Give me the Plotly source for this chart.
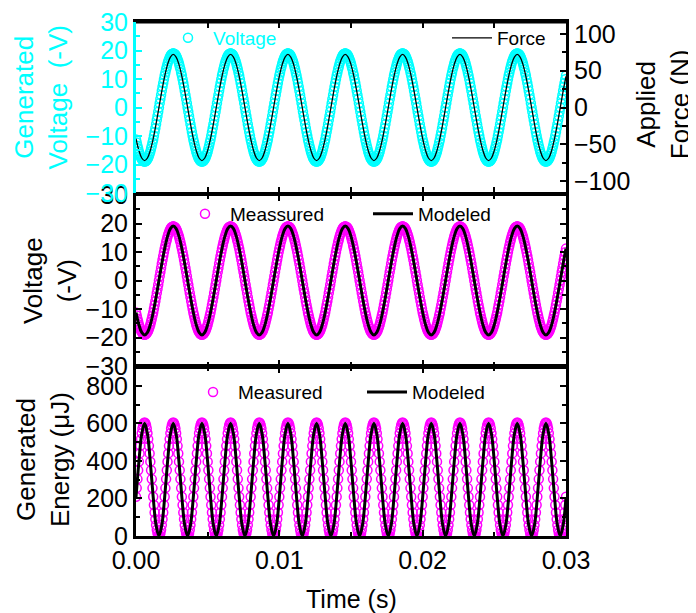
import numpy as np
import plotly.graph_objects as go

# ---------------- data ----------------
FINE_STEP = 0.00005   # s, measured samples
COARSE_STEP = 0.0002  # s, model / force samples

# measured generated voltage (-V), every 0.05 ms (shown in top and middle panels)
V_MEAS = [
    -11.2, -12.3, -13.4, -14.4, -15.4, -16.2, -16.9, -17.6, -18.1, -18.5, -18.8, -18.9, -19.0, -18.9, -18.8, -18.5, -18.1, -17.6, -16.9, -16.2, -15.4, -14.4, -13.4, -12.3, -11.2, -9.9, -8.6, -7.3, -5.9, -4.4, -3.0, -1.5, 0.0, 1.5, 3.0, 4.4, 5.9, 7.3, 8.6, 9.9,
    11.2, 12.3, 13.4, 14.4, 15.4, 16.2, 16.9, 17.6, 18.1, 18.5, 18.8, 18.9, 19.0, 18.9, 18.8, 18.5, 18.1, 17.6, 16.9, 16.2, 15.4, 14.4, 13.4, 12.3, 11.2, 9.9, 8.6, 7.3, 5.9, 4.4, 3.0, 1.5, 0.0, -1.5, -3.0, -4.4, -5.9, -7.3, -8.6, -9.9,
    -11.2, -12.3, -13.4, -14.4, -15.4, -16.2, -16.9, -17.6, -18.1, -18.5, -18.8, -18.9, -19.0, -18.9, -18.8, -18.5, -18.1, -17.6, -16.9, -16.2, -15.4, -14.4, -13.4, -12.3, -11.2, -9.9, -8.6, -7.3, -5.9, -4.4, -3.0, -1.5, 0.0, 1.5, 3.0, 4.4, 5.9, 7.3, 8.6, 9.9,
    11.2, 12.3, 13.4, 14.4, 15.4, 16.2, 16.9, 17.6, 18.1, 18.5, 18.8, 18.9, 19.0, 18.9, 18.8, 18.5, 18.1, 17.6, 16.9, 16.2, 15.4, 14.4, 13.4, 12.3, 11.2, 9.9, 8.6, 7.3, 5.9, 4.4, 3.0, 1.5, 0.0, -1.5, -3.0, -4.4, -5.9, -7.3, -8.6, -9.9,
    -11.2, -12.3, -13.4, -14.4, -15.4, -16.2, -16.9, -17.6, -18.1, -18.5, -18.8, -18.9, -19.0, -18.9, -18.8, -18.5, -18.1, -17.6, -16.9, -16.2, -15.4, -14.4, -13.4, -12.3, -11.2, -9.9, -8.6, -7.3, -5.9, -4.4, -3.0, -1.5, 0.0, 1.5, 3.0, 4.4, 5.9, 7.3, 8.6, 9.9,
    11.2, 12.3, 13.4, 14.4, 15.4, 16.2, 16.9, 17.6, 18.1, 18.5, 18.8, 18.9, 19.0, 18.9, 18.8, 18.5, 18.1, 17.6, 16.9, 16.2, 15.4, 14.4, 13.4, 12.3, 11.2, 9.9, 8.6, 7.3, 5.9, 4.4, 3.0, 1.5, 0.0, -1.5, -3.0, -4.4, -5.9, -7.3, -8.6, -9.9,
    -11.2, -12.3, -13.4, -14.4, -15.4, -16.2, -16.9, -17.6, -18.1, -18.5, -18.8, -18.9, -19.0, -18.9, -18.8, -18.5, -18.1, -17.6, -16.9, -16.2, -15.4, -14.4, -13.4, -12.3, -11.2, -9.9, -8.6, -7.3, -5.9, -4.4, -3.0, -1.5, 0.0, 1.5, 3.0, 4.4, 5.9, 7.3, 8.6, 9.9,
    11.2, 12.3, 13.4, 14.4, 15.4, 16.2, 16.9, 17.6, 18.1, 18.5, 18.8, 18.9, 19.0, 18.9, 18.8, 18.5, 18.1, 17.6, 16.9, 16.2, 15.4, 14.4, 13.4, 12.3, 11.2, 9.9, 8.6, 7.3, 5.9, 4.4, 3.0, 1.5, 0.0, -1.5, -3.0, -4.4, -5.9, -7.3, -8.6, -9.9,
    -11.2, -12.3, -13.4, -14.4, -15.4, -16.2, -16.9, -17.6, -18.1, -18.5, -18.8, -18.9, -19.0, -18.9, -18.8, -18.5, -18.1, -17.6, -16.9, -16.2, -15.4, -14.4, -13.4, -12.3, -11.2, -9.9, -8.6, -7.3, -5.9, -4.4, -3.0, -1.5, 0.0, 1.5, 3.0, 4.4, 5.9, 7.3, 8.6, 9.9,
    11.2, 12.3, 13.4, 14.4, 15.4, 16.2, 16.9, 17.6, 18.1, 18.5, 18.8, 18.9, 19.0, 18.9, 18.8, 18.5, 18.1, 17.6, 16.9, 16.2, 15.4, 14.4, 13.4, 12.3, 11.2, 9.9, 8.6, 7.3, 5.9, 4.4, 3.0, 1.5, 0.0, -1.5, -3.0, -4.4, -5.9, -7.3, -8.6, -9.9,
    -11.2, -12.3, -13.4, -14.4, -15.4, -16.2, -16.9, -17.6, -18.1, -18.5, -18.8, -18.9, -19.0, -18.9, -18.8, -18.5, -18.1, -17.6, -16.9, -16.2, -15.4, -14.4, -13.4, -12.3, -11.2, -9.9, -8.6, -7.3, -5.9, -4.4, -3.0, -1.5, 0.0, 1.5, 3.0, 4.4, 5.9, 7.3, 8.6, 9.9,
    11.2, 12.3, 13.4, 14.4, 15.4, 16.2, 16.9, 17.6, 18.1, 18.5, 18.8, 18.9, 19.0, 18.9, 18.8, 18.5, 18.1, 17.6, 16.9, 16.2, 15.4, 14.4, 13.4, 12.3, 11.2, 9.9, 8.6, 7.3, 5.9, 4.4, 3.0, 1.5, 0.0, -1.5, -3.0, -4.4, -5.9, -7.3, -8.6, -9.9,
    -11.2, -12.3, -13.4, -14.4, -15.4, -16.2, -16.9, -17.6, -18.1, -18.5, -18.8, -18.9, -19.0, -18.9, -18.8, -18.5, -18.1, -17.6, -16.9, -16.2, -15.4, -14.4, -13.4, -12.3, -11.2, -9.9, -8.6, -7.3, -5.9, -4.4, -3.0, -1.5, 0.0, 1.5, 3.0, 4.4, 5.9, 7.3, 8.6, 9.9,
    11.2, 12.3, 13.4, 14.4, 15.4, 16.2, 16.9, 17.6, 18.1, 18.5, 18.8, 18.9, 19.0, 18.9, 18.8, 18.5, 18.1, 17.6, 16.9, 16.2, 15.4, 14.4, 13.4, 12.3, 11.2, 9.9, 8.6, 7.3, 5.9, 4.4, 3.0, 1.5, 0.0, -1.5, -3.0, -4.4, -5.9, -7.3, -8.6, -9.9,
    -11.2, -12.3, -13.4, -14.4, -15.4, -16.2, -16.9, -17.6, -18.1, -18.5, -18.8, -18.9, -19.0, -18.9, -18.8, -18.5, -18.1, -17.6, -16.9, -16.2, -15.4, -14.4, -13.4, -12.3, -11.2, -9.9, -8.6, -7.3, -5.9, -4.4, -3.0, -1.5, 0.0, 1.5, 3.0, 4.4, 5.9, 7.3, 8.6, 9.9,
    11.2,
]

# applied force (N), every 0.2 ms
F_APPLIED = [
    -42.3, -58.2, -68.5, -72.0, -68.5, -58.2, -42.3, -22.2, 0.0, 22.2, 42.3, 58.2, 68.5, 72.0, 68.5, 58.2, 42.3, 22.2, 0.0, -22.2,
    -42.3, -58.2, -68.5, -72.0, -68.5, -58.2, -42.3, -22.2, 0.0, 22.2, 42.3, 58.2, 68.5, 72.0, 68.5, 58.2, 42.3, 22.2, 0.0, -22.2,
    -42.3, -58.2, -68.5, -72.0, -68.5, -58.2, -42.3, -22.2, 0.0, 22.2, 42.3, 58.2, 68.5, 72.0, 68.5, 58.2, 42.3, 22.2, 0.0, -22.2,
    -42.3, -58.2, -68.5, -72.0, -68.5, -58.2, -42.3, -22.2, 0.0, 22.2, 42.3, 58.2, 68.5, 72.0, 68.5, 58.2, 42.3, 22.2, 0.0, -22.2,
    -42.3, -58.2, -68.5, -72.0, -68.5, -58.2, -42.3, -22.2, 0.0, 22.2, 42.3, 58.2, 68.5, 72.0, 68.5, 58.2, 42.3, 22.2, 0.0, -22.2,
    -42.3, -58.2, -68.5, -72.0, -68.5, -58.2, -42.3, -22.2, 0.0, 22.2, 42.3, 58.2, 68.5, 72.0, 68.5, 58.2, 42.3, 22.2, 0.0, -22.2,
    -42.3, -58.2, -68.5, -72.0, -68.5, -58.2, -42.3, -22.2, 0.0, 22.2, 42.3, 58.2, 68.5, 72.0, 68.5, 58.2, 42.3, 22.2, 0.0, -22.2,
    -42.3, -58.2, -68.5, -72.0, -68.5, -58.2, -42.3, -22.2, 0.0, 22.2, 42.3,
]

# modeled voltage (-V), every 0.2 ms
V_MODEL = [
    -11.2, -15.5, -18.2, -19.1, -18.2, -15.5, -11.2, -5.9, 0.0, 5.9, 11.2, 15.5, 18.2, 19.1, 18.2, 15.5, 11.2, 5.9, 0.0, -5.9,
    -11.2, -15.5, -18.2, -19.1, -18.2, -15.5, -11.2, -5.9, 0.0, 5.9, 11.2, 15.5, 18.2, 19.1, 18.2, 15.5, 11.2, 5.9, 0.0, -5.9,
    -11.2, -15.5, -18.2, -19.1, -18.2, -15.5, -11.2, -5.9, 0.0, 5.9, 11.2, 15.5, 18.2, 19.1, 18.2, 15.5, 11.2, 5.9, 0.0, -5.9,
    -11.2, -15.5, -18.2, -19.1, -18.2, -15.5, -11.2, -5.9, 0.0, 5.9, 11.2, 15.5, 18.2, 19.1, 18.2, 15.5, 11.2, 5.9, 0.0, -5.9,
    -11.2, -15.5, -18.2, -19.1, -18.2, -15.5, -11.2, -5.9, 0.0, 5.9, 11.2, 15.5, 18.2, 19.1, 18.2, 15.5, 11.2, 5.9, 0.0, -5.9,
    -11.2, -15.5, -18.2, -19.1, -18.2, -15.5, -11.2, -5.9, 0.0, 5.9, 11.2, 15.5, 18.2, 19.1, 18.2, 15.5, 11.2, 5.9, 0.0, -5.9,
    -11.2, -15.5, -18.2, -19.1, -18.2, -15.5, -11.2, -5.9, 0.0, 5.9, 11.2, 15.5, 18.2, 19.1, 18.2, 15.5, 11.2, 5.9, 0.0, -5.9,
    -11.2, -15.5, -18.2, -19.1, -18.2, -15.5, -11.2, -5.9, 0.0, 5.9, 11.2,
]

# measured generated energy (uJ), every 0.05 ms
E_MEAS = [
    209, 255, 303, 350, 396, 440, 480, 516, 547, 572, 590, 601, 605, 601, 590, 572, 547, 516, 480, 440, 396, 350, 303, 255, 209, 165, 125, 89, 58, 33, 15, 4, 0, 4, 15, 33, 58, 89, 125, 165,
    209, 255, 303, 350, 396, 440, 480, 516, 547, 572, 590, 601, 605, 601, 590, 572, 547, 516, 480, 440, 396, 350, 303, 255, 209, 165, 125, 89, 58, 33, 15, 4, 0, 4, 15, 33, 58, 89, 125, 165,
    209, 255, 303, 350, 396, 440, 480, 516, 547, 572, 590, 601, 605, 601, 590, 572, 547, 516, 480, 440, 396, 350, 303, 255, 209, 165, 125, 89, 58, 33, 15, 4, 0, 4, 15, 33, 58, 89, 125, 165,
    209, 255, 303, 350, 396, 440, 480, 516, 547, 572, 590, 601, 605, 601, 590, 572, 547, 516, 480, 440, 396, 350, 303, 255, 209, 165, 125, 89, 58, 33, 15, 4, 0, 4, 15, 33, 58, 89, 125, 165,
    209, 255, 303, 350, 396, 440, 480, 516, 547, 572, 590, 601, 605, 601, 590, 572, 547, 516, 480, 440, 396, 350, 303, 255, 209, 165, 125, 89, 58, 33, 15, 4, 0, 4, 15, 33, 58, 89, 125, 165,
    209, 255, 303, 350, 396, 440, 480, 516, 547, 572, 590, 601, 605, 601, 590, 572, 547, 516, 480, 440, 396, 350, 303, 255, 209, 165, 125, 89, 58, 33, 15, 4, 0, 4, 15, 33, 58, 89, 125, 165,
    209, 255, 303, 350, 396, 440, 480, 516, 547, 572, 590, 601, 605, 601, 590, 572, 547, 516, 480, 440, 396, 350, 303, 255, 209, 165, 125, 89, 58, 33, 15, 4, 0, 4, 15, 33, 58, 89, 125, 165,
    209, 255, 303, 350, 396, 440, 480, 516, 547, 572, 590, 601, 605, 601, 590, 572, 547, 516, 480, 440, 396, 350, 303, 255, 209, 165, 125, 89, 58, 33, 15, 4, 0, 4, 15, 33, 58, 89, 125, 165,
    209, 255, 303, 350, 396, 440, 480, 516, 547, 572, 590, 601, 605, 601, 590, 572, 547, 516, 480, 440, 396, 350, 303, 255, 209, 165, 125, 89, 58, 33, 15, 4, 0, 4, 15, 33, 58, 89, 125, 165,
    209, 255, 303, 350, 396, 440, 480, 516, 547, 572, 590, 601, 605, 601, 590, 572, 547, 516, 480, 440, 396, 350, 303, 255, 209, 165, 125, 89, 58, 33, 15, 4, 0, 4, 15, 33, 58, 89, 125, 165,
    209, 255, 303, 350, 396, 440, 480, 516, 547, 572, 590, 601, 605, 601, 590, 572, 547, 516, 480, 440, 396, 350, 303, 255, 209, 165, 125, 89, 58, 33, 15, 4, 0, 4, 15, 33, 58, 89, 125, 165,
    209, 255, 303, 350, 396, 440, 480, 516, 547, 572, 590, 601, 605, 601, 590, 572, 547, 516, 480, 440, 396, 350, 303, 255, 209, 165, 125, 89, 58, 33, 15, 4, 0, 4, 15, 33, 58, 89, 125, 165,
    209, 255, 303, 350, 396, 440, 480, 516, 547, 572, 590, 601, 605, 601, 590, 572, 547, 516, 480, 440, 396, 350, 303, 255, 209, 165, 125, 89, 58, 33, 15, 4, 0, 4, 15, 33, 58, 89, 125, 165,
    209, 255, 303, 350, 396, 440, 480, 516, 547, 572, 590, 601, 605, 601, 590, 572, 547, 516, 480, 440, 396, 350, 303, 255, 209, 165, 125, 89, 58, 33, 15, 4, 0, 4, 15, 33, 58, 89, 125, 165,
    209, 255, 303, 350, 396, 440, 480, 516, 547, 572, 590, 601, 605, 601, 590, 572, 547, 516, 480, 440, 396, 350, 303, 255, 209, 165, 125, 89, 58, 33, 15, 4, 0, 4, 15, 33, 58, 89, 125, 165,
    209,
]

# modeled generated energy (uJ), every 0.2 ms
E_MODEL = [
    207, 393, 543, 600, 543, 393, 207, 57, 0, 57,
    207, 393, 543, 600, 543, 393, 207, 57, 0, 57,
    207, 393, 543, 600, 543, 393, 207, 57, 0, 57,
    207, 393, 543, 600, 543, 393, 207, 57, 0, 57,
    207, 393, 543, 600, 543, 393, 207, 57, 0, 57,
    207, 393, 543, 600, 543, 393, 207, 57, 0, 57,
    207, 393, 543, 600, 543, 393, 207, 57, 0, 57,
    207, 393, 543, 600, 543, 393, 207, 57, 0, 57,
    207, 393, 543, 600, 543, 393, 207, 57, 0, 57,
    207, 393, 543, 600, 543, 393, 207, 57, 0, 57,
    207, 393, 543, 600, 543, 393, 207, 57, 0, 57,
    207, 393, 543, 600, 543, 393, 207, 57, 0, 57,
    207, 393, 543, 600, 543, 393, 207, 57, 0, 57,
    207, 393, 543, 600, 543, 393, 207, 57, 0, 57,
    207, 393, 543, 600, 543, 393, 207, 57, 0, 57,
    207,
]

X_TICKS = [0.0, 0.01, 0.02, 0.03]
FORCE_TICKS = [-100, -50, 0, 50, 100]

t_v = np.round(np.arange(len(V_MEAS)) * FINE_STEP, 6)
t_f = np.round(np.arange(len(F_APPLIED)) * COARSE_STEP, 6)
t_vm = np.round(np.arange(len(V_MODEL)) * COARSE_STEP, 6)
t_e = np.round(np.arange(len(E_MEAS)) * FINE_STEP, 6)
t_em = np.round(np.arange(len(E_MODEL)) * COARSE_STEP, 6)

CYAN = "#00FFFF"
MAG = "#FF00FF"
FONT = "Liberation Sans, Arial, Helvetica, sans-serif"
MSIZE = 9

fig = go.Figure()

# top panel
fig.add_trace(go.Scatter(x=t_v, y=V_MEAS, mode="markers", name="Voltage", showlegend=True,
                         marker=dict(symbol="circle-open", size=MSIZE, color=CYAN, line=dict(width=1.5, color=CYAN)),
                         xaxis="x3", yaxis="y3", legend="legend"))
fig.add_trace(go.Scatter(x=t_f, y=F_APPLIED, mode="lines", name="Force", line_shape="spline", showlegend=True,
                         line=dict(color="black", width=1.3),
                         xaxis="x3", yaxis="y4", legend="legend2"))
# middle panel
fig.add_trace(go.Scatter(x=t_v, y=V_MEAS, mode="markers", name="Meassured", showlegend=True,
                         marker=dict(symbol="circle-open", size=MSIZE, color=MAG, line=dict(width=1.5, color=MAG)),
                         xaxis="x2", yaxis="y2", legend="legend3"))
fig.add_trace(go.Scatter(x=t_vm, y=V_MODEL, mode="lines", name="Modeled", line_shape="spline", showlegend=True,
                         line=dict(color="black", width=3),
                         xaxis="x2", yaxis="y2", legend="legend4"))
# bottom panel
fig.add_trace(go.Scatter(x=t_e, y=E_MEAS, mode="markers", name="Measured", showlegend=True,
                         marker=dict(symbol="circle-open", size=MSIZE, color=MAG, line=dict(width=1.5, color=MAG)),
                         xaxis="x", yaxis="y", legend="legend5"))
fig.add_trace(go.Scatter(x=t_em, y=E_MODEL, mode="lines", name="Modeled", line_shape="spline", showlegend=True,
                         line=dict(color="black", width=3),
                         xaxis="x", yaxis="y", legend="legend6"))

xcommon = dict(range=[0, 0.03], tickvals=X_TICKS, ticks="inside", ticklen=6, tickwidth=2,
               tickcolor="black", showline=True, linewidth=3, linecolor="black", mirror="allticks",
               showgrid=False, zeroline=False, automargin=False,
               minor=dict(dtick=0.005, tick0=0, ticks="inside", ticklen=4, tickwidth=2, tickcolor="black", showgrid=False))

ycommon = dict(ticks="inside", ticklen=6, tickwidth=2, tickcolor="black", showline=True, linewidth=3,
               linecolor="black", showgrid=False, zeroline=False, automargin=False,
               ticklabeloverflow="allow")

leg = dict(xanchor="left", yanchor="middle", bgcolor="rgba(0,0,0,0)", itemwidth=40)

fig.update_layout(
    width=688, height=605,
    margin=dict(l=128, r=130, t=14, b=77, autoexpand=False),
    plot_bgcolor="white", paper_bgcolor="white",
    showlegend=True,
    font=dict(family=FONT, size=25, color="black"),
    xaxis=dict(**xcommon, anchor="y", tickformat=".2f", tickfont=dict(size=25), ticklabeloverflow="allow"),
    xaxis2=dict(**xcommon, anchor="y2", matches="x", showticklabels=False),
    xaxis3=dict(**xcommon, anchor="y3", matches="x", showticklabels=False),
    yaxis=dict(**ycommon, domain=[0, 0.3288], anchor="x", range=[0, 900], dtick=200, tick0=0,
               mirror="allticks",
               minor=dict(dtick=100, ticks="inside", ticklen=4, tickwidth=2, tickcolor="black")),
    yaxis2=dict(**ycommon, domain=[0.3307, 0.6634], anchor="x2", range=[-30, 30], dtick=10, tick0=0,
                mirror="allticks",
                minor=dict(dtick=5, ticks="inside", ticklen=4, tickwidth=2, tickcolor="black")),
    yaxis3=dict(ticks="inside", ticklen=6, tickwidth=2, tickcolor=CYAN, showline=True, linewidth=3,
                linecolor=CYAN, showgrid=False, zeroline=False, automargin=False,
                ticklabeloverflow="allow",
                domain=[0.6673, 1], anchor="x3", range=[-30, 30], dtick=10, tick0=0,
                tickfont=dict(color=CYAN), mirror=False,
                minor=dict(dtick=5, ticks="inside", ticklen=4, tickwidth=2, tickcolor=CYAN)),
    yaxis4=dict(**ycommon, overlaying="y3", anchor="x3", side="right", range=[-116, 116],
                tickvals=FORCE_TICKS, mirror=False,
                minor=dict(dtick=25, tick0=0, ticks="inside", ticklen=4, tickwidth=2, tickcolor="black")),
    legend=dict(**leg, x=0.0628, y=0.969, font=dict(size=19, color=CYAN)),
    legend2=dict(**leg, x=0.7233, y=0.969, font=dict(size=19, color="black")),
    legend3=dict(**leg, x=0.1023, y=0.6265, font=dict(size=19, color="black")),
    legend4=dict(**leg, x=0.5395, y=0.6265, font=dict(size=19, color="black")),
    legend5=dict(**leg, x=0.121, y=0.280, font=dict(size=19, color="black")),
    legend6=dict(**leg, x=0.5256, y=0.280, font=dict(size=19, color="black")),
    shapes=[
        # top frame edge of the upper panel
        dict(type="line", xref="x3 domain", yref="y3 domain", x0=0, x1=1, y0=1, y1=1,
             line=dict(color="black", width=3), layer="above"),
    ],
    annotations=[
        dict(text="Generated<br>Voltage\u00a0 (-V)", x=-0.2198, y=0.854, xref="paper", yref="paper",
             textangle=-90, showarrow=False, xanchor="center", yanchor="middle",
             font=dict(size=26, color=CYAN, family=FONT)),
        dict(text="Applied<br>Force (N)", x=1.2256, y=0.840, xref="paper", yref="paper",
             textangle=-90, showarrow=False, xanchor="center", yanchor="middle",
             font=dict(size=26, color="black", family=FONT)),
        dict(text="Voltage<br>(-V)", x=-0.20, y=0.496, xref="paper", yref="paper",
             textangle=-90, showarrow=False, xanchor="center", yanchor="middle",
             font=dict(size=26, color="black", family=FONT)),
        dict(text="Generated<br>Energy (μJ)", x=-0.2163, y=0.1498, xref="paper", yref="paper",
             textangle=-90, showarrow=False, xanchor="center", yanchor="middle",
             font=dict(size=26, color="black", family=FONT)),
        dict(text="Time (s)", x=0.5, y=-0.1226, xref="paper", yref="paper",
             showarrow=False, xanchor="center", yanchor="middle",
             font=dict(size=25, color="black", family=FONT)),
    ],
)

fig.write_html("out.html")
